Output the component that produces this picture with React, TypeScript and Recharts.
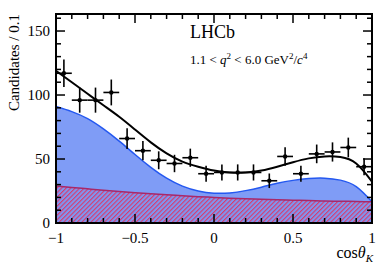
import { ComposedChart, Area, Line, Scatter, ErrorBar, XAxis, YAxis } from 'recharts'

// binned data points (cos theta_K, bin width 0.1)
const binCenters = [-0.95, -0.85, -0.75, -0.65, -0.55, -0.45, -0.35, -0.25, -0.15, -0.05, 0.05, 0.15, 0.25, 0.35, 0.45, 0.55, 0.65, 0.75, 0.85, 0.95]
const counts = [117, 96, 96, 102, 66, 56.5, 49, 46.5, 51, 38.5, 39.5, 39.5, 39.5, 33, 52, 38.5, 54, 55.5, 59, 44]
const countErrors = [10.8, 9.8, 9.8, 10.1, 8.1, 7.5, 7, 6.8, 7.1, 6.2, 6.3, 6.3, 6.3, 5.7, 7.2, 6.2, 7.3, 7.5, 7.7, 6.6]

// fit curves
const curveX = [-1, -0.9, -0.8, -0.7, -0.6, -0.5, -0.4, -0.3, -0.2, -0.1, 0, 0.1, 0.2, 0.3, 0.4, 0.5, 0.6, 0.7, 0.8, 0.9, 1]
const totalFit = [119, 110, 101, 92, 83, 73, 63, 54.4, 48, 44, 41, 39.5, 39.5, 41, 44, 47.5, 50.5, 52, 51.5, 46.5, 32.3]
const blueTop = [91, 87, 81.5, 73.5, 64, 53.5, 43.5, 35, 28.8, 25, 23.3, 23.5, 25.3, 28, 31, 33.3, 34.7, 35, 33.5, 28.5, 16.6]
const background = [29, 27.8, 26.7, 25.6, 24.6, 23.7, 22.8, 22, 21.3, 20.6, 20, 19.4, 18.9, 18.5, 18.1, 17.8, 17.5, 17.2, 17, 16.8, 16.6]

const xTicks = [-1, -0.9, -0.8, -0.7, -0.6, -0.5, -0.4, -0.3, -0.2, -0.1, 0, 0.1, 0.2, 0.3, 0.4, 0.5, 0.6, 0.7, 0.8, 0.9, 1]
const xMajor = [-1, -0.5, 0, 0.5, 1]
const xMajorLabels = ['\u22121', '\u22120.5', '0', '0.5', '1']
const yTicks = [0, 10, 20, 30, 40, 50, 60, 70, 80, 90, 100, 110, 120, 130, 140, 150, 160]
const yMajor = [0, 50, 100, 150]

const curveData = curveX.map((x, i) => ({ x, total: totalFit[i], sig: blueTop[i], bg: background[i] }))
const pointData = binCenters.map((x, i) => ({ x, y: counts[i], ey: countErrors[i], ex: 0.05 }))

const FONT = '"Liberation Serif", "Times New Roman", serif'
const txt = { fontFamily: FONT }
const MAJ = 9
const MIN = 5

// eslint-disable-next-line @typescript-eslint/no-explicit-any
const BottomTick = ({ x, y, payload }: any) => {
  const idx = xMajor.indexOf(payload.value)
  const major = idx >= 0
  return (
    <g>
      <line x1={x} x2={x} y1={y} y2={y - (major ? MAJ : MIN)} stroke="#000" strokeWidth={1.5} />
      {major && (
        <text x={x} y={y + 20} textAnchor="middle" style={txt} fontSize={15} fill="#000">
          {xMajorLabels[idx]}
        </text>
      )}
    </g>
  )
}

// eslint-disable-next-line @typescript-eslint/no-explicit-any
const TopTick = ({ x, y, payload }: any) => {
  const major = xMajor.includes(payload.value)
  return <line x1={x} x2={x} y1={y} y2={y + (major ? MAJ : MIN)} stroke="#000" strokeWidth={1.5} />
}

// eslint-disable-next-line @typescript-eslint/no-explicit-any
const LeftTick = ({ x, y, payload }: any) => {
  const major = yMajor.includes(payload.value)
  return (
    <g>
      <line x1={x} x2={x + (major ? MAJ : MIN)} y1={y} y2={y} stroke="#000" strokeWidth={1.5} />
      {major && (
        <text x={x - 6} y={y + 5} textAnchor="end" style={txt} fontSize={15} fill="#000">
          {payload.value}
        </text>
      )}
    </g>
  )
}

// eslint-disable-next-line @typescript-eslint/no-explicit-any
const RightTick = ({ x, y, payload }: any) => {
  const major = yMajor.includes(payload.value)
  return <line x1={x} x2={x - (major ? MAJ : MIN)} y1={y} y2={y} stroke="#000" strokeWidth={1.5} />
}

// eslint-disable-next-line @typescript-eslint/no-explicit-any
const Dot = ({ cx, cy }: any) => <circle cx={cx} cy={cy} r={2.2} fill="#000" />

const frame = { stroke: '#000', strokeWidth: 2, strokeLinecap: 'square' as const }

export default function App() {
  return (
    <div style={{ position: 'absolute', left: 0, top: 0, width: 392, height: 266, background: '#fff' }}>
      <ComposedChart width={392} height={266} data={curveData} margin={{ top: 10, right: 16, bottom: 13, left: 6 }}>
        <XAxis xAxisId="b" dataKey="x" type="number" domain={[-1, 1]} ticks={xTicks} interval={0}
          tick={<BottomTick />} tickLine={false} tickSize={0} tickMargin={0} height={30} axisLine={frame} allowDataOverflow />
        <XAxis xAxisId="t" orientation="top" dataKey="x" type="number" domain={[-1, 1]} ticks={xTicks} interval={0}
          tick={<TopTick />} tickLine={false} tickSize={0} tickMargin={0} height={4} axisLine={frame} allowDataOverflow />
        <YAxis yAxisId="l" type="number" domain={[0, 163.3]} ticks={yTicks} interval={0}
          tick={<LeftTick />} tickLine={false} tickSize={0} tickMargin={0} width={50} axisLine={frame} allowDataOverflow />
        <YAxis yAxisId="r" orientation="right" type="number" domain={[0, 163.3]} ticks={yTicks} interval={0}
          tick={<RightTick />} tickLine={false} tickSize={0} tickMargin={0} width={4} axisLine={frame} allowDataOverflow />
        <Area xAxisId="b" yAxisId="l" type="natural" dataKey="sig" fill="#7f9cf6" fillOpacity={1}
          stroke="#2458f0" strokeWidth={1.5} isAnimationActive={false} />
        <Area xAxisId="b" yAxisId="l" type="natural" dataKey="bg" fill="url(#hatch)" fillOpacity={1}
          stroke="#a8286a" strokeWidth={1.5} isAnimationActive={false} />
        <Line xAxisId="b" yAxisId="l" type="natural" dataKey="total" stroke="#000" strokeWidth={2}
          dot={false} isAnimationActive={false} />
        <Scatter xAxisId="b" yAxisId="l" data={pointData} dataKey="y" shape={<Dot />} isAnimationActive={false}>
          <ErrorBar dataKey="ey" direction="y" width={0} stroke="#000" strokeWidth={1.6} />
          <ErrorBar dataKey="ex" direction="x" width={0} stroke="#000" strokeWidth={1.6} />
        </Scatter>
      </ComposedChart>
      <svg width={392} height={266} style={{ position: 'absolute', left: 0, top: 0, pointerEvents: 'none' }}>
        <defs>
          <pattern id="hatch" patternUnits="userSpaceOnUse" width={3.2} height={3.2} patternTransform="rotate(45)">
            <rect width={3.2} height={3.2} fill="#7f96f0" />
            <rect width={1.1} height={3.2} fill="#d83a6c" />
          </pattern>
        </defs>
        <text transform="translate(19,14) rotate(-90)" textAnchor="end" style={txt} fontSize={15} fill="#000">
          Candidates / 0.1
        </text>
        <text x={190} y={38} style={txt} fontSize={18} fill="#000">LHCb</text>
        <text x={190} y={64} style={txt} fontSize={13} fill="#000">
          1.1 &lt; <tspan fontStyle="italic">q</tspan><tspan dy={-5} fontSize={9}>2</tspan>
          <tspan dy={5}> &lt; 6.0 GeV</tspan><tspan dy={-5} fontSize={9}>2</tspan>
          <tspan dy={5}>/</tspan><tspan fontStyle="italic">c</tspan><tspan dy={-5} fontSize={9}>4</tspan>
        </text>
        <text x={373} y={258} textAnchor="end" style={txt} fontSize={16} fill="#000">
          cos<tspan fontStyle="italic">θ</tspan><tspan dy={4} fontSize={11} fontStyle="italic">K</tspan>
        </text>
      </svg>
    </div>
  )
}
